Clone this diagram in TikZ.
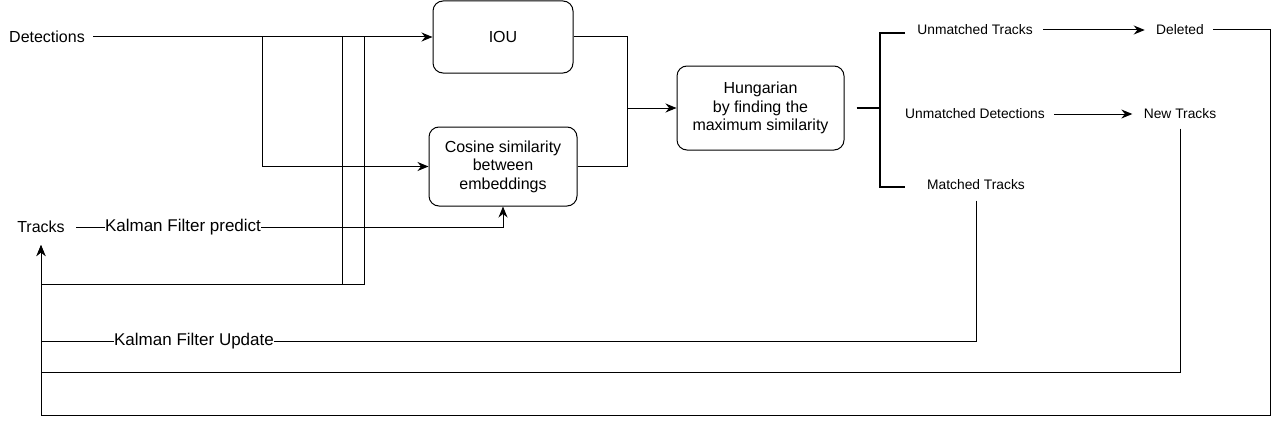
\documentclass[tikz,border=0pt]{standalone}
\usepackage{fontspec}
\setmainfont{Liberation Sans}
\usetikzlibrary{arrows.meta}

\begin{document}
\begin{tikzpicture}[x=1pt,y=-1pt,line width=1pt,
  >={Stealth[length=11pt,width=9pt]},
  box/.style={draw,rounded corners=10pt,align=center,font=\fontsize{16}{18.5}\selectfont},
  lbl/.style={inner sep=0pt,font=\fontsize{16}{19}\selectfont},
  res/.style={inner sep=0pt,font=\fontsize{13.8}{16}\selectfont}]
\useasboundingbox (0,0) rectangle (1281,428);

% Inputs
\node[lbl] (det) at (47,37) {Detections};
\node[lbl] (trk) at (41,227) {Tracks};
\node[lbl,font=\fontsize{17}{19}\selectfont] (kfp) at (183,227) {Kalman Filter predict};
\node[lbl,font=\fontsize{17}{19}\selectfont] (kfu) at (194,341) {Kalman Filter Update};

% Similarity boxes
\node[box,minimum width=140,minimum height=72] (iou) at (503,37) {IOU};
\node[box,minimum width=148,minimum height=79] (cos) at (503,166.5) {Cosine similarity\\between\\embeddings};
\node[box,minimum width=167,minimum height=84] (hung) at (760.5,108) {Hungarian\\by finding the\\maximum similarity};

% Outputs
\node[res] (umtr) at (975,30) {Unmatched Tracks};
\node[res] (umdet) at (975,114) {Unmatched Detections};
\node[res] (mtr) at (976,185) {Matched Tracks};
\node[res] (del) at (1180,30) {Deleted};
\node[res] (newt) at (1180,114) {New Tracks};

\coordinate (split) at (262,37);
\coordinate (join) at (627,108);
\coordinate (brk) at (880,108);
\coordinate (trkin) at (41,245);

% Detections to the boxes
\draw[->] ([xshift=8pt]det.east) -- (iou.west);
\draw[->] (split) |- (cos.west);
\draw (342,37) -- (342,284);
\draw[->] (364,37) -- (364,284) -- (41,284) -- (trkin);

% Tracks
\draw ([xshift=11pt]trk.east) -- (kfp.west);
\draw[->] (kfp.east) -| (cos.south);

% Matching
\draw (iou.east) -| (join);
\draw (cos.east) -| (join);
\draw[->] (join) -- (hung.west);

% Bracket
\draw[line width=2pt] ([xshift=12pt]hung.east) -- (brk);
\draw[line width=2pt] (905,33) -- (880,33) -- (880,187) -- (905,187);

% Results
\draw[->] ([xshift=10pt]umtr.east) -- ([xshift=-11pt]del.west);
\draw[->] ([xshift=9pt]umdet.east) -- ([xshift=-11pt]newt.west);
\draw[->] ([xshift=9pt]del.east) -| (1270,415) -- (41,415) -- (trkin);
\draw ([yshift=-9pt]newt.south) |- (41,372);
\draw ([yshift=-10pt]mtr.south) |- (kfu.east);
\draw (kfu.west) -- (trkin |- kfu.west);
\end{tikzpicture}
\end{document}
